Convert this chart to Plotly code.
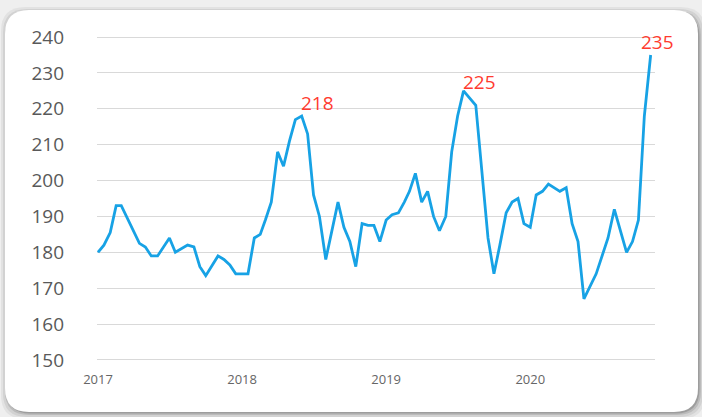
import plotly.graph_objects as go

# ---- data (semi-monthly readings; only visible vertices) ----
dates = [
    "2017-01-01", "2017-01-16", "2017-02-01", "2017-02-16", "2017-03-01", "2017-04-16",
    "2017-05-01", "2017-05-16", "2017-06-01", "2017-07-01", "2017-07-16", "2017-08-16",
    "2017-09-01", "2017-09-16", "2017-10-01", "2017-11-01", "2017-11-16", "2017-12-01",
    "2017-12-16", "2018-01-16", "2018-02-01", "2018-02-16", "2018-03-01", "2018-03-16",
    "2018-04-01", "2018-04-16", "2018-05-01", "2018-05-16", "2018-06-01", "2018-06-16",
    "2018-07-01", "2018-07-16", "2018-08-01", "2018-09-01", "2018-09-16", "2018-10-01",
    "2018-10-16", "2018-11-01", "2018-11-16", "2018-12-01", "2018-12-16", "2019-01-01",
    "2019-01-16", "2019-02-01", "2019-02-16", "2019-03-01", "2019-03-16", "2019-04-01",
    "2019-04-16", "2019-05-01", "2019-05-16", "2019-06-01", "2019-06-16", "2019-07-01",
    "2019-07-16", "2019-08-16", "2019-09-16", "2019-10-01", "2019-10-16", "2019-11-01",
    "2019-11-16", "2019-12-01", "2019-12-16", "2020-01-01", "2020-01-16", "2020-02-01",
    "2020-02-16", "2020-03-16", "2020-04-01", "2020-04-16", "2020-05-01", "2020-05-16",
    "2020-06-16", "2020-07-01", "2020-07-16", "2020-08-01", "2020-09-01", "2020-09-16",
    "2020-10-01", "2020-10-16", "2020-11-01",
]
values = [
    180, 182, 185.5, 193, 193, 182.5,
    181.5, 179, 179, 184, 180, 182,
    181.5, 176, 173.5, 179, 178, 176.5,
    174, 174, 184, 185, 189, 194,
    208, 204, 211, 217, 218, 213,
    196, 190, 178, 194, 187, 183,
    176, 188, 187.5, 187.5, 183, 189,
    190.5, 191, 194, 197, 202, 194,
    197, 190, 186, 190, 208, 218,
    225, 221, 184, 174, 182, 191,
    194, 195, 188, 187, 196, 197,
    199, 197, 198, 188, 183, 167,
    174, 179, 184, 192, 180, 183,
    189, 218, 235,
]
peak_labels = ["218", "225", "235"]
peak_dates = ["2018-06-01", "2019-07-16", "2020-11-01"]
peak_values = [218, 225, 235]

tick_dates = ["2017-01-01", "2018-01-01", "2019-01-01", "2020-01-01"]
tick_text = ["2017", "2018", "2019", "2020"]
y_ticks = [150, 160, 170, 180, 190, 200, 210, 220, 230, 240]

# ---- layout geometry ----
W, H = 702, 417
L, R, T, B = 97, 47, 36, 56
PW, PH = W - L - R, H - T - B


def px_x(p):
    return (p - L) / PW


def px_y(p):
    return (H - B - p) / PH


def rrect(x0, y0, x1, y1, r):
    def P(x, y):
        return f"{px_x(x):.5f},{px_y(y):.5f}"
    return (f"M {P(x0 + r, y0)} L {P(x1 - r, y0)} Q {P(x1, y0)} {P(x1, y0 + r)} "
            f"L {P(x1, y1 - r)} Q {P(x1, y1)} {P(x1 - r, y1)} "
            f"L {P(x0 + r, y1)} Q {P(x0, y1)} {P(x0, y1 - r)} "
            f"L {P(x0, y0 + r)} Q {P(x0, y0)} {P(x0 + r, y0)} Z")


shapes = []
# soft shadow layers
for d, a in [(7, 0.05), (5, 0.07), (3, 0.11), (1.5, 0.16)]:
    shapes.append(dict(type="path", xref="paper", yref="paper", layer="below",
                       path=rrect(5 - d + 3, 10 - d + 4, 698 + d, 412 + d, 24),
                       fillcolor=f"rgba(0,0,0,{a})", line=dict(width=0)))
shapes.append(dict(type="path", xref="paper", yref="paper", layer="below",
                   path=rrect(5, 10, 698, 412, 24),
                   fillcolor="white", line=dict(width=0)))

fig = go.Figure()
fig.add_trace(go.Scatter(
    x=dates, y=values, mode="lines",
    line=dict(color="#17A2E5", width=2.8),
    hoverinfo="skip", showlegend=False,
))

annotations = []
shifts = [(-3, -2), (-3, -6), (-12, -2)]
for lab, xd, yv, (dx, dy) in zip(peak_labels, peak_dates, peak_values, shifts):
    annotations.append(dict(
        x=xd, y=yv, xref="x", yref="y", text=lab, showarrow=False,
        xanchor="left", yanchor="bottom", xshift=dx, yshift=dy,
        font=dict(family="Open Sans", size=19, color="#FF3B30"),
    ))

fig.update_layout(
    width=W, height=H,
    margin=dict(l=L, r=R, t=T, b=B),
    paper_bgcolor="#efefef",
    plot_bgcolor="rgba(0,0,0,0)",
    shapes=shapes,
    annotations=annotations,
    xaxis=dict(
        type="date",
        range=["2016-12-29 12:00", "2020-11-12"],
        tickvals=tick_dates, ticktext=tick_text,
        showgrid=False, zeroline=False, showline=False,
        ticks="", ticklabelstandoff=9,
        tickfont=dict(family="Open Sans", size=13, color="#666666"),
    ),
    yaxis=dict(
        range=[149.7, 240.3],
        tickvals=y_ticks,
        showgrid=True, gridcolor="#d9d9d9", gridwidth=1.3,
        zeroline=False, showline=False,
        ticks="", ticklabelstandoff=32,
        tickfont=dict(family="Open Sans", size=19, color="#595959"),
    ),
)

fig.write_html("out.html",
               config={"displayModeBar": False},
               post_script="document.body.style.margin='0';document.body.style.overflow='hidden';")
